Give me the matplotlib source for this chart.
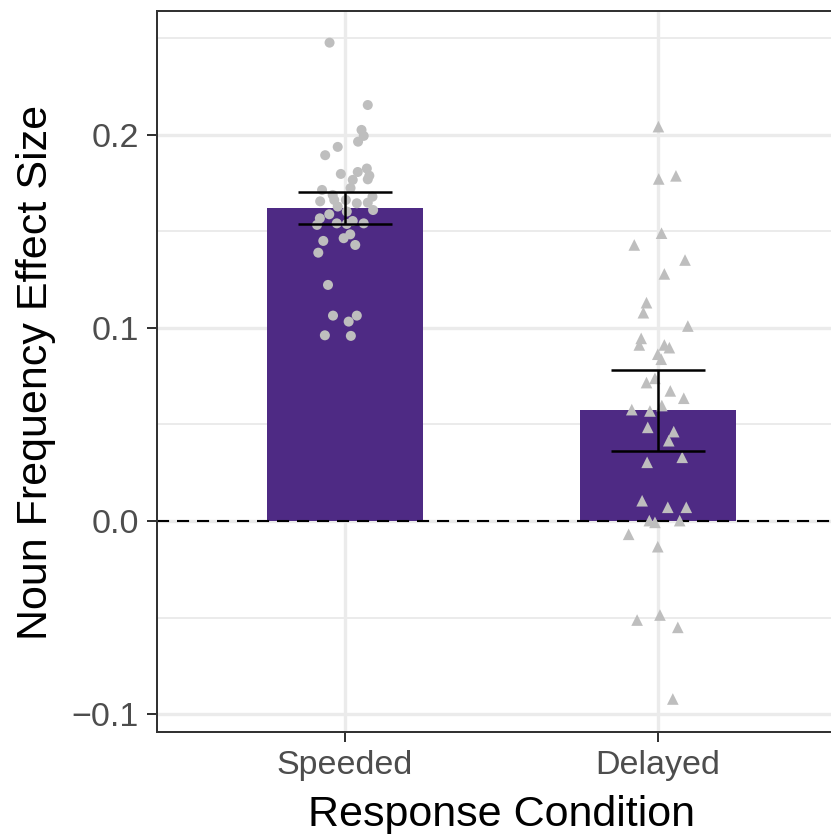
import matplotlib
matplotlib.use("Agg")
import matplotlib.pyplot as plt
import numpy as np

plt.rcParams["font.family"] = ["Liberation Sans", "DejaVu Sans"]

# summary values per condition
conditions = ["Speeded", "Delayed"]
means = [0.162, 0.0575]
ci_low = [0.1539, 0.0363]
ci_high = [0.1705, 0.0782]

# per-participant effects (x jitter in category units, y value)
speeded_x = [0.951, 1.073, 1.053, 1.060, 1.042, 0.977, 0.937, 1.070, 1.041, 0.987, 1.078,
             1.025, 1.073, 1.018, 0.927, 0.961, 1.088, 0.921, 0.966, 1.003, 1.038, 1.073,
             0.977, 1.090, 1.006, 0.950, 0.920, 0.911, 0.974, 1.006, 1.025, 1.060, 1.017,
             0.996, 0.931, 1.033, 0.915, 0.946, 0.962, 1.038, 1.012, 0.936, 1.019]
speeded_y = [0.2478, 0.2155, 0.2026, 0.1995, 0.1965, 0.1938, 0.1895, 0.1826, 0.1808, 0.1798,
             0.1789, 0.1767, 0.1770, 0.1725, 0.1715, 0.1689, 0.1680, 0.1656, 0.1663, 0.1663,
             0.1646, 0.1649, 0.1629, 0.1611, 0.1603, 0.1589, 0.1568, 0.1534, 0.1542, 0.1539,
             0.1554, 0.1542, 0.1485, 0.1465, 0.1451, 0.1430, 0.1390, 0.1223, 0.1064, 0.1064,
             0.1033, 0.0962, 0.0959]
delayed_x = [2.001, 2.002, 2.057, 2.011, 1.924, 2.086, 2.020, 1.963, 1.953, 2.095, 1.946,
             1.940, 2.020, 2.036, 1.999, 2.010, 1.990, 1.963, 2.039, 2.082, 1.916, 1.974,
             2.012, 1.967, 2.050, 2.034, 1.965, 2.077, 1.949, 2.031, 2.090, 1.972, 1.990,
             2.069, 1.906, 1.999, 1.933, 2.006, 2.063, 2.047]
delayed_y = [0.2043, 0.1772, 0.1788, 0.1491, 0.1430, 0.1352, 0.1280, 0.1131, 0.1079, 0.1010,
             0.0946, 0.0912, 0.0912, 0.0898, 0.0864, 0.0838, 0.0739, 0.0717, 0.0674, 0.0636,
             0.0577, 0.0570, 0.0598, 0.0485, 0.0463, 0.0416, 0.0304, 0.0330, 0.0105, 0.0071,
             0.0071, 0.0002, -0.0007, 0.0002, -0.0069, -0.0133, -0.0513, -0.0487, -0.0551,
             -0.0922]

yticks = [-0.1, 0.0, 0.1, 0.2]
ytick_labels = ["\u22120.1", "0.0", "0.1", "0.2"]

W, H = 831, 834
fig = plt.figure(figsize=(W / 100, H / 100), dpi=100)
ax = fig.add_axes([157 / W, (H - 732) / H, 689 / W, 721 / H])

pos = np.arange(1, len(conditions) + 1)
grid_col = "#EBEBEB"
for yv in [-0.05, 0.05, 0.15, 0.25]:
    ax.axhline(yv, color=grid_col, lw=1.4, zorder=0)
for yv in yticks:
    ax.axhline(yv, color=grid_col, lw=2.4, zorder=0)
for xv in pos:
    ax.axvline(xv, color=grid_col, lw=2.4, zorder=0)

ax.bar(pos, means, width=0.5, color="#4E2A84", zorder=1)
ax.axhline(0, color="black", lw=1.5, ls=(0, (5.8, 3.8)), zorder=2)

ax.scatter(speeded_x, speeded_y, s=52, marker="o", color="#BEBEBE", edgecolors="none", zorder=3)
ax.scatter(delayed_x, delayed_y, s=70, marker="^", color="#BEBEBE", edgecolors="none", zorder=3)

m = np.array(means)
yerr = [m - np.array(ci_low), np.array(ci_high) - m]
ax.errorbar(pos, means, yerr=yerr, fmt="none", ecolor="black", elinewidth=1.8,
            capsize=34, capthick=1.8, zorder=4)

ax.set_xlim(0.4, 2.6)
ax.set_ylim(-0.1093, 0.2642)
ax.set_xticks(pos)
ax.set_xticklabels(conditions)
ax.set_yticks(yticks)
ax.set_yticklabels(ytick_labels)
ax.tick_params(axis="both", length=7.2, width=1.44, color="#333333",
               labelcolor="#4D4D4D", labelsize=24.5, pad=6)
for sp in ax.spines.values():
    sp.set_color("#333333")
    sp.set_linewidth(1.44)

fig.text(501 / W, (H - 826) / H, "Response Condition", ha="center", va="baseline",
         fontsize=31, color="black")
fig.text(36 / W, (H - 372) / H, "Noun Frequency Effect Size", ha="center", va="center",
         rotation=90, fontsize=31, color="black")

fig.savefig("out.png", dpi=100)
